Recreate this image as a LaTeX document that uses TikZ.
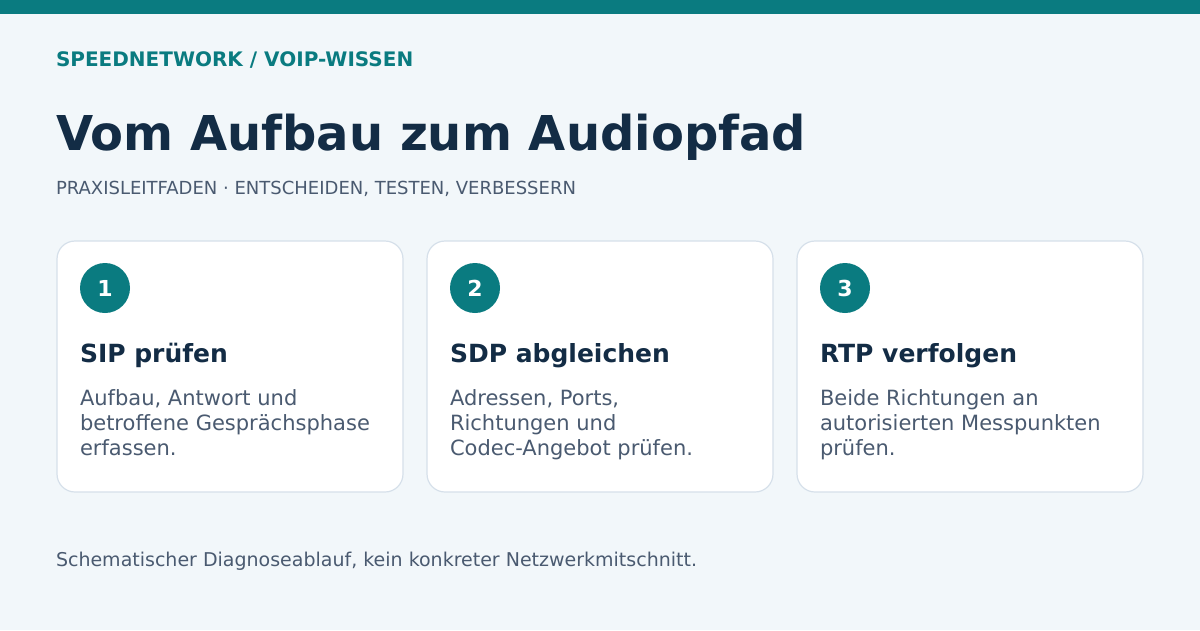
\documentclass[tikz,border=0pt]{standalone}
\usepackage{fontspec}
\setmainfont{DejaVu Sans}
\usetikzlibrary{positioning}
\definecolor{teal}{HTML}{0A7B80}
\definecolor{navy}{HTML}{132C45}
\definecolor{slate}{HTML}{4A5A70}
\definecolor{paper}{HTML}{F2F7FA}
\definecolor{rim}{HTML}{D6E0EA}

\begin{document}
\begin{tikzpicture}[x=1pt,y=-1pt,% all sizes in px of the reference
		every node/.style={inner sep=0pt,outer sep=0pt},
		card/.style={rectangle,rounded corners=18pt,draw=rim,line width=1.2pt,fill=white,
			minimum width=346pt,minimum height=251pt,anchor=north west},
		badge/.style={circle,fill=teal,minimum size=50pt,text=white,font=\bfseries\fontsize{22}{26}\selectfont},
		head/.style={anchor=base west,text=navy,font=\bfseries\fontsize{25}{29}\selectfont},
		body/.style={anchor=north west,align=left,text=slate,font=\fontsize{21}{25}\selectfont}
	]
	\useasboundingbox (0,0) rectangle (1200,630);
	\fill[paper] (0,0) rectangle (1200,630);
	\fill[teal] (0,0) rectangle (1200,14);

	% header
	\node[anchor=base west,text=teal,font=\bfseries\fontsize{20}{22}\selectfont](kicker) at (56,66) {SPEEDNETWORK / VOIP-WISSEN};
	\node[anchor=base west,text=navy,font=\bfseries\fontsize{48}{56}\selectfont](title) at (56,150) {Vom Aufbau zum Audiopfad};
	\node[anchor=base west,text=slate,font=\fontsize{18}{20}\selectfont](sub) at (56,194) {PRAXISLEITFADEN · ENTSCHEIDEN, TESTEN, VERBESSERN};

	% cards
	\node[card](C1) at (57,241) {};
	\node[card](C2) at (427,241) {};
	\node[card](C3) at (797,241) {};

	\node[badge](B1) at (105,288) {1};
	\node[badge](B2) at (475,288) {2};
	\node[badge](B3) at (845,288) {3};

	\node[head](H1) at (80,362) {SIP prüfen};
	\node[head](H2) at (450,362) {SDP abgleichen};
	\node[head](H3) at (820,362) {RTP verfolgen};

	\node[body](T1)[below=28pt of H1.base west,anchor=north west] {Aufbau, Antwort und\\betroffene Gesprächsphase\\erfassen.};
	\node[body](T2)[below=28pt of H2.base west,anchor=north west] {Adressen, Ports,\\Richtungen und\\Codec-Angebot prüfen.};
	\node[body](T3)[below=28pt of H3.base west,anchor=north west] {Beide Richtungen an\\autorisierten Messpunkten\\prüfen.};

	% footer
	\node[anchor=base west,text=slate,font=\fontsize{19}{22}\selectfont](foot) at (56,566) {Schematischer Diagnoseablauf, kein konkreter Netzwerkmitschnitt.};
\end{tikzpicture}
\end{document}
